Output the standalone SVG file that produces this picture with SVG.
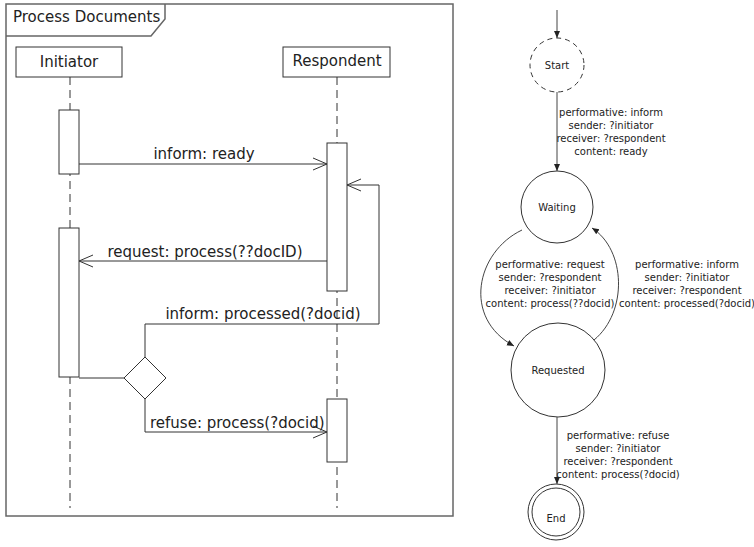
<svg xmlns="http://www.w3.org/2000/svg" width="754" height="547" viewBox="0 0 754 547">
  <defs>
    <style>
      .frame { fill: none; stroke: #666; stroke-width: 1.5; }
      .box { fill: #fff; stroke: #333; stroke-width: 1; }
      .life { fill: none; stroke: #333; stroke-width: 1; stroke-dasharray: 8 5; }
      .msg { fill: none; stroke: #333; stroke-width: 1; }
      .seq { font-family: "DejaVu Sans", "Liberation Sans", sans-serif; font-size: 15px; fill: #222; }
      .mid { text-anchor: middle; }
      .state { fill: #fff; stroke: #333; stroke-width: 1; }
      .tr { fill: none; stroke: #444; stroke-width: 1; }
      .sm { font-family: "DejaVu Sans", "Liberation Sans", sans-serif; font-size: 10px; fill: #222; text-anchor: middle; }
    </style>
    <marker id="open" markerUnits="userSpaceOnUse" markerWidth="16" markerHeight="14" refX="15" refY="7" orient="auto">
      <path d="M1,1 L15,7 L1,13" fill="none" stroke="#333" stroke-width="1"/>
    </marker>
    <marker id="solid" markerUnits="userSpaceOnUse" markerWidth="8" markerHeight="8" refX="7" refY="4" orient="auto">
      <path d="M0,1 L7,4 L0,7 Z" fill="#222"/>
    </marker>
  </defs>

  <!-- Sequence diagram frame -->
  <g id="frame">
    <rect class="frame" x="6" y="4" width="447" height="512"/>
    <path class="frame" d="M6,36 H151 L165,19 V4"/>
    <text class="seq" x="13" y="22">Process Documents</text>
  </g>

  <!-- Lifelines -->
  <g id="initiator">
    <line class="life" x1="70" y1="77" x2="70" y2="508"/>
    <rect class="box" x="16" y="47" width="106" height="30"/>
    <text class="seq mid" x="69" y="67">Initiator</text>
    <rect class="box" x="59" y="110" width="20" height="64"/>
    <rect class="box" x="59" y="228" width="20" height="149"/>
  </g>
  <g id="respondent">
    <line class="life" x1="337" y1="77" x2="337" y2="508"/>
    <rect class="box" x="283" y="47" width="107" height="30"/>
    <text class="seq mid" x="337" y="66">Respondent</text>
    <rect class="box" x="327" y="143" width="20" height="148"/>
    <rect class="box" x="327" y="399" width="20" height="63"/>
  </g>
  <g id="choice">
    <polygon class="box" points="145,357 166,378 145,399 124,378"/>
  </g>

  <!-- Messages -->
  <g id="messages">
    <line class="msg" x1="79" y1="164" x2="327" y2="164" marker-end="url(#open)"/>
    <text class="seq mid" x="204" y="159">inform: ready</text>

    <line class="msg" x1="327" y1="261" x2="79" y2="261" marker-end="url(#open)"/>
    <text class="seq mid" x="205" y="257">request: process(??docID)</text>

    <path class="msg" d="M145,357 V324 H379 V185 H347" marker-end="url(#open)"/>
    <text class="seq mid" x="263" y="319">inform: processed(?docid)</text>

    <line class="msg" x1="79" y1="378" x2="124" y2="378"/>

    <path class="msg" d="M145,399 V432 H327" marker-end="url(#open)"/>
    <text class="seq" x="150" y="428">refuse: process(?docid)</text>
  </g>

  <!-- State machine nodes -->
  <g id="start">
    <circle class="state" cx="557" cy="65" r="27" stroke-dasharray="5 4"/>
    <text class="sm" x="557" y="69">Start</text>
  </g>
  <g id="waiting">
    <circle class="state" cx="557" cy="207" r="36"/>
    <text class="sm" x="557" y="211">Waiting</text>
  </g>
  <g id="requested">
    <circle class="state" cx="558" cy="370" r="47"/>
    <text class="sm" x="558" y="374">Requested</text>
  </g>
  <g id="end">
    <circle class="state" cx="556" cy="512" r="28"/>
    <circle class="state" cx="556" cy="512" r="24"/>
    <text class="sm" x="556" y="522">End</text>
  </g>

  <!-- State transitions -->
  <g id="transitions">
    <line class="tr" x1="557" y1="10" x2="557" y2="38" marker-end="url(#solid)"/>

    <line class="tr" x1="557" y1="92" x2="557" y2="171" marker-end="url(#solid)"/>
    <text class="sm" x="611" y="116">performative: inform</text>
    <text class="sm" x="611" y="129">sender: ?initiator</text>
    <text class="sm" x="611" y="142">receiver: ?respondent</text>
    <text class="sm" x="611" y="155">content: ready</text>

    <path class="tr" d="M522,230 C476,252 462,318 514,346" marker-end="url(#solid)"/>
    <text class="sm" x="550" y="268">performative: request</text>
    <text class="sm" x="550" y="281">sender: ?respondent</text>
    <text class="sm" x="550" y="294">receiver: ?initiator</text>
    <text class="sm" x="550" y="307">content: process(??docid)</text>

    <path class="tr" d="M594,340 C628,312 626,250 592,228" marker-end="url(#solid)"/>
    <text class="sm" x="687" y="268">performative: inform</text>
    <text class="sm" x="687" y="281">sender: ?initiator</text>
    <text class="sm" x="687" y="294">receiver: ?respondent</text>
    <text class="sm" x="687" y="307">content: processed(?docid)</text>

    <line class="tr" x1="557" y1="417" x2="557" y2="484" marker-end="url(#solid)"/>
    <text class="sm" x="618" y="439">performative: refuse</text>
    <text class="sm" x="618" y="452">sender: ?initiator</text>
    <text class="sm" x="618" y="465">receiver: ?respondent</text>
    <text class="sm" x="618" y="478">content: process(?docid)</text>
  </g>
</svg>
